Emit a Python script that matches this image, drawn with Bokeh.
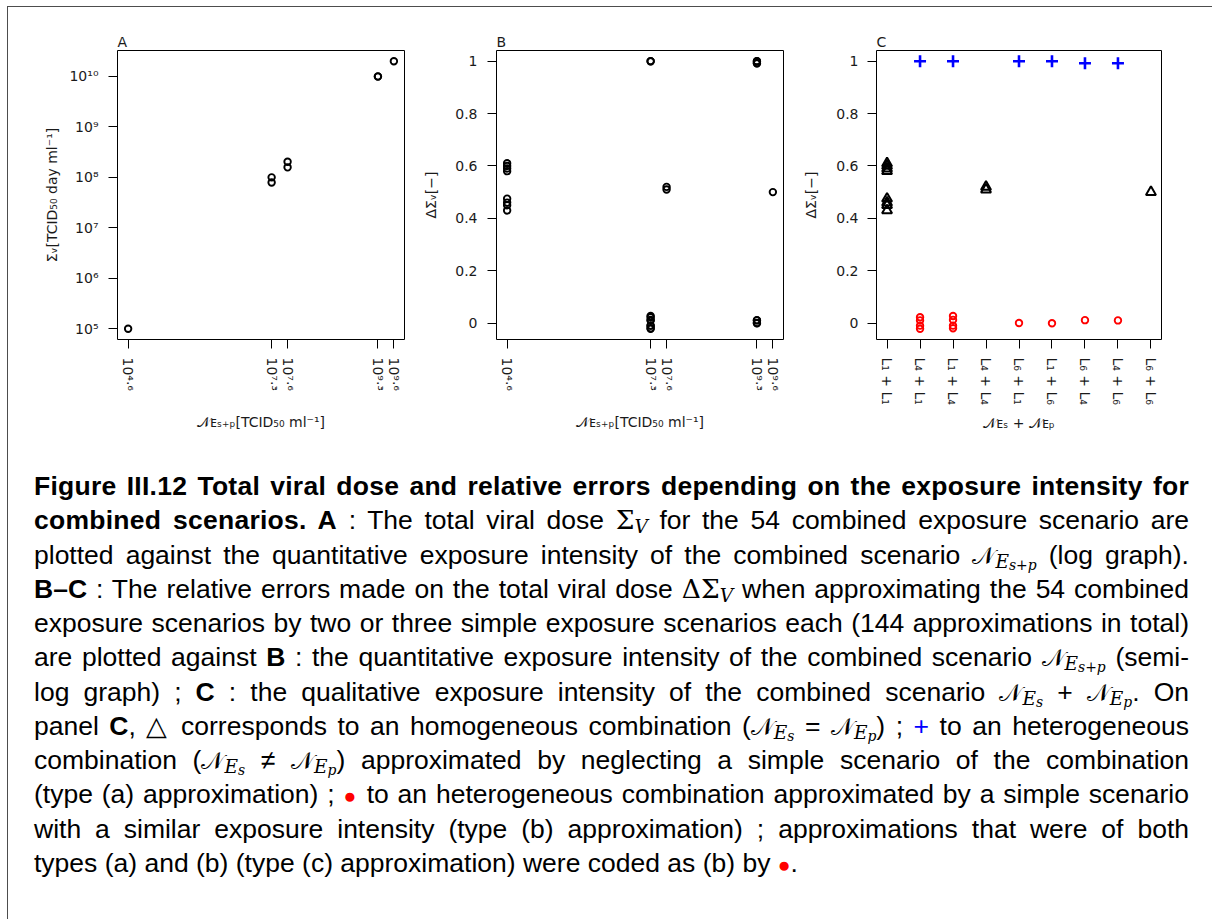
from bokeh.plotting import figure
from bokeh.models import Range1d, FixedTicker, Div
from bokeh.layouts import row, column
from bokeh.embed import file_html
from bokeh.resources import INLINE

# ---------------- data ----------------
# Panel A : total viral dose vs quantitative exposure intensity
a_intensity_exp = [4.6, 7.3, 7.3, 7.6, 7.6, 9.3, 9.3, 9.6]
a_total_dose = [1.0e5, 1.0e8, 7.9e7, 2.04e8, 1.58e8, 1.0e10, 0.99e10, 2.0e10]

intensity_tick_exp = [4.6, 7.3, 7.6, 9.3, 9.6]
intensity_tick_labels = ["10⁴·⁶", "10⁷·³", "10⁷·⁶", "10⁹·³", "10⁹·⁶"]
dose_tick_exp = [5, 6, 7, 8, 9, 10]
dose_tick_labels = ["10⁵", "10⁶", "10⁷", "10⁸", "10⁹", "10¹⁰"]
error_ticks = [0, 0.2, 0.4, 0.6, 0.8, 1]
error_tick_labels = ["0", "0.2", "0.4", "0.6", "0.8", "1"]

# Panel C categories (qualitative intensity) and their quantitative intensity
combinations = ["L₁ + L₁", "L₄ + L₁", "L₁ + L₄", "L₄ + L₄", "L₆ + L₁",
                "L₁ + L₆", "L₆ + L₄", "L₄ + L₆", "L₆ + L₆"]
combination_intensity_exp = [4.6, 7.3, 7.3, 7.6, 9.3, 9.3, 9.3, 9.3, 9.6]

# homogeneous combinations (triangles)
homogeneous_combination = ["L₁ + L₁"] * 8 + ["L₄ + L₄"] * 2 + ["L₆ + L₆"]
homogeneous_error = [0.61, 0.60, 0.59, 0.58, 0.475, 0.46, 0.45, 0.43, 0.52, 0.51, 0.50]

# type (a) approximations (blue plus)
type_a_combination = ["L₄ + L₁", "L₁ + L₄", "L₆ + L₁", "L₁ + L₆", "L₆ + L₄", "L₄ + L₆"]
type_a_error = [1.0, 1.0, 1.0, 1.0, 0.992, 0.992]

# type (b) approximations (red circles)
type_b_combination = ["L₄ + L₁"] * 4 + ["L₁ + L₄"] * 4 + ["L₆ + L₁", "L₁ + L₆", "L₆ + L₄", "L₄ + L₆"]
type_b_error = [0.022, 0.010, -0.010, -0.022, 0.027, 0.012, -0.010, -0.020, 0.0, -0.001, 0.011, 0.010]

# ---------------- helpers ----------------
FONT = "DejaVu Sans"
TXT = "#1a1a1a"


def padded(lo, hi, frac=0.04):
    d = (hi - lo) * frac
    return lo - d, hi + d


def make_fig(width, left, right, title, **kw):
    p = figure(width=width, height=433, min_border_left=left, min_border_right=right,
               min_border_top=43, min_border_bottom=101, output_backend="svg",
               toolbar_location=None, title=title, **kw)
    p.title.align = "left"
    p.title.text_font = FONT
    p.title.text_font_size = "14px"
    p.title.text_font_style = "normal"
    p.title.text_color = TXT
    p.title.standoff = 2
    p.title.offset = 0
    p.grid.visible = False
    p.outline_line_color = "black"
    p.outline_line_width = 1
    p.background_fill_color = "white"
    p.border_fill_color = "white"
    for ax in (p.xaxis[0], p.yaxis[0]):
        ax.axis_line_color = None
        ax.major_tick_out = 9
        ax.major_tick_in = 0
        ax.minor_tick_out = 0
        ax.minor_tick_in = 0
        ax.minor_tick_line_color = None
        ax.major_tick_line_color = "black"
        ax.major_label_text_font = FONT
        ax.major_label_text_font_size = "14px"
        ax.major_label_text_color = TXT
        ax.axis_label_text_font = FONT
        ax.axis_label_text_font_size = "14px"
        ax.axis_label_text_font_style = "normal"
        ax.axis_label_text_color = TXT
    p.xaxis.major_label_orientation = "vertical"
    p.xaxis.major_label_standoff = 9
    return p


x_lo, x_hi = padded(min(intensity_tick_exp), max(intensity_tick_exp))
err_all = homogeneous_error + type_a_error + type_b_error
e_lo, e_hi = padded(min(err_all), max(err_all))

# ---------------- panel A ----------------
d_lo, d_hi = padded(5.0, 10.301)
pA = make_fig(407, 109, 11, "A", x_axis_type="log", y_axis_type="log",
              x_range=Range1d(10 ** x_lo, 10 ** x_hi), y_range=Range1d(10 ** d_lo, 10 ** d_hi))
pA.xaxis.ticker = FixedTicker(ticks=[10 ** e for e in intensity_tick_exp])
pA.xaxis.major_label_overrides = {10 ** e: l for e, l in zip(intensity_tick_exp, intensity_tick_labels)}
pA.yaxis.ticker = FixedTicker(ticks=[10.0 ** e for e in dose_tick_exp])
pA.yaxis.major_label_overrides = {10.0 ** e: l for e, l in zip(dose_tick_exp, dose_tick_labels)}
pA.yaxis.major_label_standoff = 10
pA.xaxis.axis_label = "𝒩ᴇₛ₊ₚ[TCID₅₀ ml⁻¹]"
pA.yaxis.axis_label = "Σᵥ[TCID₅₀ day ml⁻¹]"
pA.xaxis.axis_label_standoff = 20
pA.yaxis.axis_label_standoff = 6
pA.scatter([10 ** e for e in a_intensity_exp], a_total_dose, marker="circle", size=6.5,
           fill_color=None, line_color="black", line_width=1.9)

# ---------------- panel B ----------------
pB = make_fig(385, 81, 17, "B", x_axis_type="log",
              x_range=Range1d(10 ** x_lo, 10 ** x_hi), y_range=Range1d(e_lo, e_hi))
pB.xaxis.ticker = FixedTicker(ticks=[10 ** e for e in intensity_tick_exp])
pB.xaxis.major_label_overrides = {10 ** e: l for e, l in zip(intensity_tick_exp, intensity_tick_labels)}
pB.yaxis.ticker = FixedTicker(ticks=error_ticks)
pB.yaxis.major_label_overrides = dict(zip(error_ticks, error_tick_labels))
pB.yaxis.major_label_standoff = 10
pB.xaxis.axis_label = "𝒩ᴇₛ₊ₚ[TCID₅₀ ml⁻¹]"
pB.yaxis.axis_label = "ΔΣᵥ[−]"
pB.xaxis.axis_label_standoff = 20
pB.yaxis.axis_label_standoff = 13
b_combos = homogeneous_combination + type_a_combination + type_b_combination
b_x = [10 ** combination_intensity_exp[combinations.index(c)] for c in b_combos]
pB.scatter(b_x, err_all, marker="circle", size=6.5, fill_color=None,
           line_color="black", line_width=1.9)

# ---------------- panel C ----------------
c_pos = list(range(1, len(combinations) + 1))
c_lo, c_hi = padded(1, len(combinations))
pC = make_fig(404, 74, 43, "C", x_range=Range1d(c_lo, c_hi), y_range=Range1d(e_lo, e_hi))
pC.xaxis.ticker = FixedTicker(ticks=c_pos)
pC.xaxis.major_label_overrides = dict(zip(c_pos, combinations))
pC.yaxis.ticker = FixedTicker(ticks=error_ticks)
pC.yaxis.major_label_overrides = dict(zip(error_ticks, error_tick_labels))
pC.yaxis.major_label_standoff = 9
pC.xaxis.axis_label = "𝒩ᴇₛ + 𝒩ᴇₚ"
pC.yaxis.axis_label = "ΔΣᵥ[−]"
pC.xaxis.axis_label_standoff = 7
pC.yaxis.axis_label_standoff = 14


def cpos(cs):
    return [combinations.index(c) + 1 for c in cs]


pC.scatter(cpos(homogeneous_combination), homogeneous_error, marker="triangle", size=10,
           fill_color=None, line_color="black", line_width=2)
pC.scatter(cpos(type_a_combination), type_a_error, marker="cross", size=12,
           line_color="#0000ff", line_width=2.6)
pC.scatter(cpos(type_b_combination), type_b_error, marker="circle", size=6.5,
           fill_color=None, line_color="#ff0000", line_width=1.9)

# ---------------- caption ----------------
SERIF = "font-family:'DejaVu Serif'"


def low(inner, shift="0.22em", size="70%"):
    return (f'<span style="font-size:{size};position:relative;top:{shift};'
            f'line-height:0;font-weight:normal;letter-spacing:0">{inner}</span>')


def it(t):
    return f'<i style="{SERIF}">{t}</i>'


SIG_V = f'<span style="{SERIF}">Σ</span>' + low(it("V"))
DSIG_V = f'<span style="{SERIF}">ΔΣ</span>' + low(it("V"))
NN = f'<span style="{SERIF};font-size:92%">𝒩</span>'
N_ESP = NN + low(it("E") + low(it("s+p"), "0.15em", "75%"))
N_ES = NN + low(it("E") + low(it("s"), "0.15em", "75%"))
N_EP = NN + low(it("E") + low(it("p"), "0.15em", "75%"))
PLUS = '<span style="color:#0000ff">+</span>'
DOT = '<span style="color:#ff0000;font-size:80%">●</span>'
BOLD = '<b style="letter-spacing:0.25px">'

caption_lines = [
    f"{BOLD}Figure III.12 Total viral dose and relative errors depending on the exposure intensity for</b>",
    f"{BOLD}combined scenarios. A</b> : The total viral dose {SIG_V} for the 54 combined exposure scenario are",
    f"plotted against the quantitative exposure intensity of the combined scenario {N_ESP} (log graph).",
    f"<b>B–C</b> : The relative errors made on the total viral dose {DSIG_V} when approximating the 54 combined",
    "exposure scenarios by two or three simple exposure scenarios each (144 approximations in total)",
    f"are plotted against <b>B</b> : the quantitative exposure intensity of the combined scenario {N_ESP} (semi-",
    f"log graph) ; <b>C</b> : the qualitative exposure intensity of the combined scenario {N_ES} + {N_EP}. On",
    f"panel <b>C</b>, △ corresponds to an homogeneous combination ({N_ES} = {N_EP}) ; {PLUS} to an heterogeneous",
    f"combination ({N_ES} ≠ {N_EP}) approximated by neglecting a simple scenario of the combination",
    f"(type (a) approximation) ; {DOT} to an heterogeneous combination approximated by a simple scenario",
    "with a similar exposure intensity (type (b) approximation) ; approximations that were of both",
    f"types (a) and (b) (type (c) approximation) were coded as (b) by {DOT}.",
]

parts = []
for i, ln in enumerate(caption_lines):
    last = i == len(caption_lines) - 1
    align = "text-align:left;" if last else "text-align:justify;text-align-last:justify;"
    parts.append(f'<div style="height:34.25px;line-height:34.25px;{align}">{ln}</div>')
caption_html = ('<div style="margin-left:21px;width:1155px;padding-top:24px;'
                "font-family:'Liberation Sans';font-size:26.5px;color:#000;\">"
                + "".join(parts) + "</div>")
caption = Div(text=caption_html, width=1196, height=470)

layout = column(row(pA, pB, pC), caption,
                styles={"margin-left": "8px", "margin-top": "7px",
                        "box-shadow": "-1px -1px 0 0 #4d4d4d"})

open("out.html", "w").write(file_html(layout, INLINE))
